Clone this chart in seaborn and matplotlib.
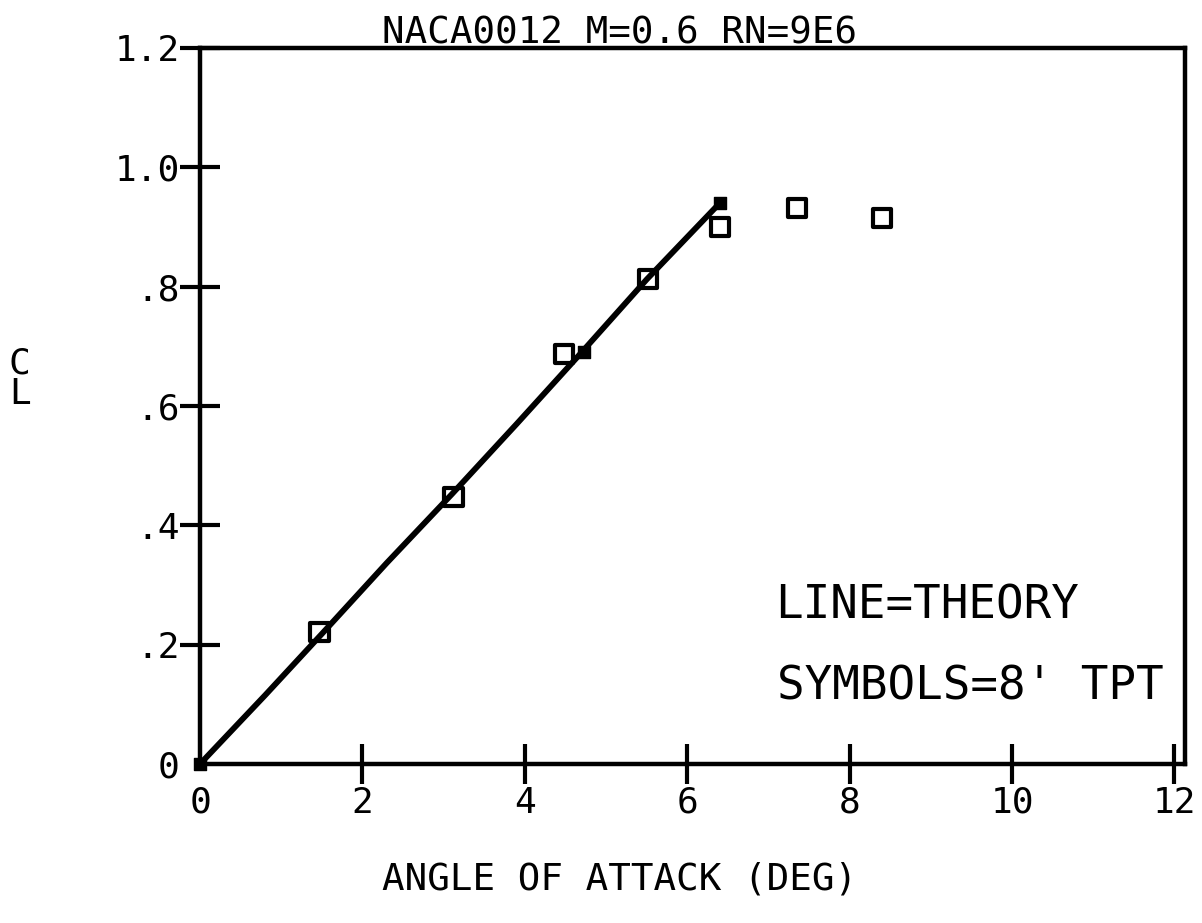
import numpy as np
import pandas as pd
import seaborn as sns
import matplotlib.pyplot as plt

# theory curve (solid line)
theory_alpha = [0.0, 0.8, 1.5, 2.3, 3.1, 3.9, 4.7, 5.5, 6.4]
theory_cl = [0.0, 0.115, 0.218, 0.337, 0.452, 0.570, 0.690, 0.812, 0.940]

# small solid marks sitting on the theory curve
mark_alpha = [0.0, 4.73, 6.4]
mark_cl = [0.0, 0.69, 0.94]

# 8' TPT test points (open squares)
tpt_alpha = [1.47, 3.12, 4.48, 5.52, 6.40, 7.35, 8.40]
tpt_cl = [0.221, 0.447, 0.687, 0.813, 0.900, 0.932, 0.915]

x_ticks = [0, 2, 4, 6, 8, 10, 12]
x_labels = ["0", "2", "4", "6", "8", "10", "12"]
y_ticks = [0.0, 0.2, 0.4, 0.6, 0.8, 1.0, 1.2]
y_labels = ["0", ".2", ".4", ".6", ".8", "1.0", "1.2"]

sns.set_style("white")
plt.rcParams['font.family'] = ['DejaVu Sans Mono', 'DejaVu Sans']

fig = plt.figure(figsize=(12.02, 9.23), dpi=100)
ax = fig.add_axes([200 / 1202, 1 - 764 / 923, 985 / 1202, 716 / 923])

theory = pd.DataFrame({"alpha": theory_alpha, "cl": theory_cl})
sns.lineplot(data=theory, x="alpha", y="cl", color="black", linewidth=4.2,
             sort=False, ax=ax, clip_on=False, zorder=3)
sns.scatterplot(x=mark_alpha, y=mark_cl, marker="s", s=70, color="black",
                edgecolor="black", linewidth=1, ax=ax, clip_on=False, zorder=4)
sns.scatterplot(x=tpt_alpha, y=tpt_cl, marker="s", s=175, facecolor="none",
                edgecolor="black", linewidth=3, ax=ax, clip_on=False, zorder=5)

ax.set_xlim(0, 12.13)
ax.set_ylim(0, 1.2)
ax.set_xticks(x_ticks)
ax.set_xticklabels(x_labels)
ax.set_yticks(y_ticks)
ax.set_yticklabels(y_labels)
ax.tick_params(axis="both", direction="inout", length=29, width=3,
               color="black", labelsize=26, labelcolor="black",
               bottom=True, left=True)
ax.tick_params(axis="x", pad=1)
ax.tick_params(axis="y", pad=0)
ax.yaxis.get_major_ticks()[0].tick1line.set_visible(False)
ax.xaxis.get_major_ticks()[0].tick1line.set_visible(False)

for side in ["left", "right", "top", "bottom"]:
    ax.spines[side].set_visible(True)
    ax.spines[side].set_color("black")
    ax.spines[side].set_linewidth(3.2)

ax.set_xlabel("ANGLE OF ATTACK (DEG)", fontsize=27, color="black", va="top")
ax.xaxis.set_label_coords(0.426, -0.136)
ax.set_ylabel("C\nL", fontsize=26, color="black", rotation=0,
              ha="center", va="center", linespacing=0.9)
ax.yaxis.set_label_coords(-0.183, 0.538)

ax.text(0.426, 1.006, "NACA0012 M=0.6 RN=9E6", transform=ax.transAxes,
        ha="center", va="baseline", fontsize=27, color="black")
ax.text(0.584, 0.220, "LINE=THEORY", transform=ax.transAxes,
        ha="left", va="center", fontsize=33, color="black")
ax.text(0.586, 0.107, "SYMBOLS=8' TPT", transform=ax.transAxes,
        ha="left", va="center", fontsize=33, color="black")

plt.savefig("out.png", dpi=100)
plt.close()
